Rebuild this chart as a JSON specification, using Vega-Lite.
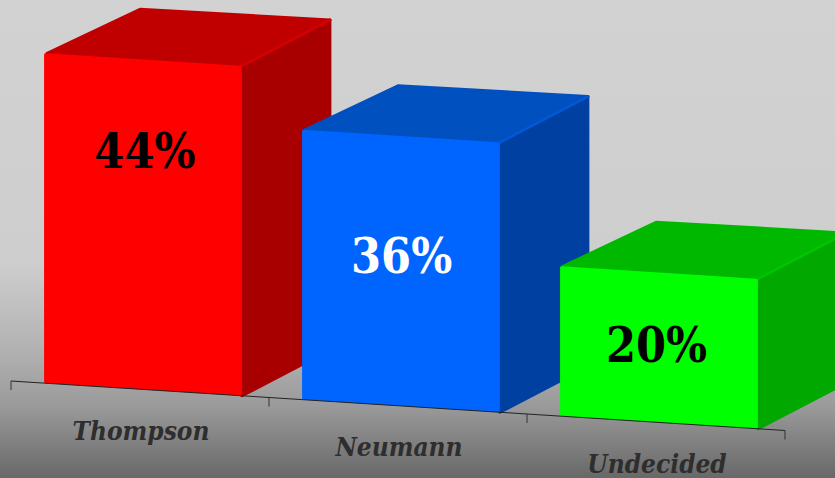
{
"$schema":"https://vega.github.io/schema/vega-lite/v6.json",
"width":835,"height":478,"padding":0,
"autosize":"none",
"background":"#cfcfcf",
"config":{"view":{"stroke":null}},
"datasets":{
 "shares":[{"candidate":"Thompson","share":44},{"candidate":"Neumann","share":36},{"candidate":"Undecided","share":20}],
 "ticks":[{"tick":0},{"tick":1},{"tick":2},{"tick":3}],
 "backdrop":[{"from":-0.04264,"to":3.1938,"low":-12.9333,"high":50.8}]
},
"data":{"name":"shares"},
"transform":[{"calculate":"indexof(['Thompson','Neumann','Undecided'],datum.candidate)","as":"slot"}],
"encoding":{
 "x":{"field":"px","type":"quantitative","axis":null,"scale":{"domain":[-0.04264,3.1938],"nice":false,"zero":false}},
 "y":{"field":"py","type":"quantitative","axis":null,"scale":{"domain":[-12.9333,50.8],"nice":false,"zero":false}}
},
"layer":[
 {"data":{"name":"backdrop"},
  "mark":{"type":"rect","filled":true,"fill":{"gradient":"linear","x1":0,"y1":0,"x2":0,"y2":1,"stops":[{"offset":0,"color":"#d2d2d2"},{"offset":0.55,"color":"#cecece"},{"offset":0.72,"color":"#b4b4b4"},{"offset":0.85,"color":"#9a9a9a"},{"offset":1,"color":"#686868"}]}},
  "encoding":{"x":{"field":"from","type":"quantitative"},"x2":{"field":"to"},"y":{"field":"low","type":"quantitative"},"y2":{"field":"high"}}},
 {"transform":[
   {"calculate":"['top','side','edge','front']","as":"face"},{"flatten":["face"]},
   {"calculate":"[0,1,2,3,4]","as":"k"},{"flatten":["k"]},
   {"filter":"datum.face!='edge'||datum.k<2"},
   {"calculate":"datum.k%4","as":"m"},
   {"calculate":"datum.face=='side'||datum.face=='edge'?1:(datum.face=='top'?(datum.m>=2?1:0):(datum.m==1||datum.m==2?1:0))","as":"r"},
   {"calculate":"datum.face=='front'?0:(datum.m==1||datum.m==2?1:0)","as":"d"},
   {"calculate":"datum.face=='top'||datum.face=='edge'||datum.m<2?1:0","as":"h"},
   {"calculate":"datum.slot+(datum.r?0.895:0.128)+(datum.face=='front'?(datum.r?-0.006:0.006):0)+(datum.face=='top'&&datum.m==0?0.012:0)","as":"u"},
   {"calculate":"datum.u+datum.d*(datum.r?0.341:0.372)","as":"px"},
   {"calculate":"datum.h*datum.share-2.2*datum.u+datum.d*(datum.r?6.1:5.85)+(datum.face=='front'?(datum.h?-0.2:0.2):0)","as":"py"},
   {"calculate":"datum.candidate+' '+datum.face","as":"poly"}
  ],
  "mark":{"type":"line","filled":true,"clip":true,"strokeWidth":3,"strokeJoin":"round","strokeCap":"round","interpolate":"linear"},
  "encoding":{
   "order":{"field":"k","type":"quantitative"},
   "detail":{"field":"poly"},
   "fill":{"field":"poly","type":"nominal","legend":null,"scale":{
    "domain":["Thompson top","Thompson side","Thompson edge","Thompson front","Neumann top","Neumann side","Neumann edge","Neumann front","Undecided top","Undecided side","Undecided edge","Undecided front"],
    "range":["#c00000","#a80000","#d20000","#ff0000","#0050c0","#0040a0","#0058d4","#0064ff","#00b800","#00a800","#00c400","#00ff00"]}},
   "stroke":{"field":"poly","type":"nominal","legend":null,"scale":{
    "domain":["Thompson top","Thompson side","Thompson edge","Thompson front","Neumann top","Neumann side","Neumann edge","Neumann front","Undecided top","Undecided side","Undecided edge","Undecided front"],
    "range":["#c00000","#a80000","#d20000","#ff0000","#0050c0","#0040a0","#0058d4","#0064ff","#00b800","#00a800","#00c400","#00ff00"]}}
  }},
 {"data":{"name":"ticks"},
  "transform":[
   {"filter":"datum.tick<3"},
   {"calculate":"datum.tick","as":"px"},{"calculate":"datum.tick+1","as":"px2"},
   {"calculate":"-2.2*datum.tick","as":"py"},{"calculate":"-2.2*(datum.tick+1)","as":"py2"}],
  "mark":{"type":"rule","color":"#222222","strokeWidth":1},
  "encoding":{"x2":{"field":"px2"},"y2":{"field":"py2"}}},
 {"data":{"name":"ticks"},
  "transform":[
   {"calculate":"datum.tick","as":"px"},
   {"calculate":"-2.2*datum.tick","as":"py"},{"calculate":"-2.2*datum.tick-1.2","as":"py2"}],
  "mark":{"type":"rule","color":"#333333","strokeWidth":1},
  "encoding":{"y2":{"field":"py2"}}},
 {"transform":[
   {"calculate":"datum.slot+0.504","as":"px"},
   {"calculate":"-2.2*datum.px-5.65","as":"py"}],
  "mark":{"type":"text","font":"DejaVu Serif Condensed","fontWeight":"bold","fontStyle":"italic","fontSize":26,"color":"#2e2e2e","align":"center","baseline":"middle"},
  "encoding":{"text":{"field":"candidate"}}},
 {"transform":[
   {"calculate":"datum.slot+({'Thompson':0.519,'Neumann':0.514,'Undecided':0.502})[datum.candidate]","as":"px"},
   {"calculate":"({'Thompson':30.27,'Neumann':16.33,'Undecided':4.35})[datum.candidate]","as":"py"},
   {"calculate":"datum.share+'%'","as":"lab"}],
  "mark":{"type":"text","font":"DejaVu Serif Condensed","fontWeight":"bold","fontSize":48,"align":"center","baseline":"middle"},
  "encoding":{"text":{"field":"lab"},"color":{"field":"candidate","type":"nominal","legend":null,"scale":{"domain":["Thompson","Neumann","Undecided"],"range":["#000000","#ffffff","#000000"]}}}}
]
}
